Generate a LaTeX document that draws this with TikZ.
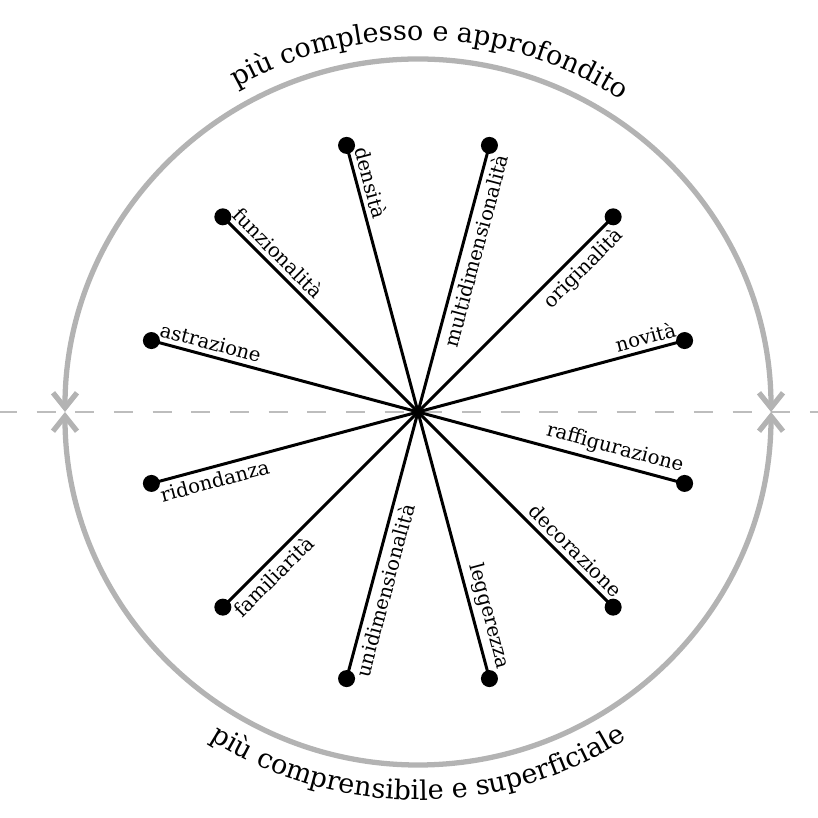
\documentclass[tikz,border=0pt]{standalone}
\usepackage{fontspec}
\setmainfont{DejaVu Serif}
\usepackage{xcolor}
\usepackage{tikz}
\usetikzlibrary{arrows.meta,decorations.text}
\definecolor{ink}{HTML}{000000}
\definecolor{ring}{HTML}{B3B3B3}
\definecolor{axis}{HTML}{BDBDBD}
\newcommand{\labfont}{\fontsize{5.6}{6.5}\selectfont}
\newcommand{\arcfont}{\fontsize{7.7}{9}\selectfont}
\tikzset{
  spoke/.style={draw=ink, line width=0.85pt, line cap=round},
  dot/.style={circle, fill=ink, inner sep=0pt, minimum size=1.7mm},
  lab/.style={font=\labfont, text=ink, inner sep=1.5pt},
  ringline/.style={
    draw=ring,
    line width=1.5pt,
    {Straight Barb[length=1.5mm, width=2.4mm]}-{Straight Barb[length=1.5mm, width=2.4mm]}
  },
  axisline/.style={draw=axis, line width=0.5pt, dash pattern=on 5.4pt off 5.6pt},
  arctext/.style={decorate, decoration={text along path, text align=center, text={#1}}}
}

\begin{document}
\begin{tikzpicture}
  \useasboundingbox (-4.18,-4.06) rectangle (4.00,4.12);
  \coordinate (centre) at (0,0);
  \coordinate (axisW) at (-4.20,0);
  \coordinate (axisE) at (4.02,0);
  \draw[axisline] (axisW) -- (axisE);

  % the ring, split on the axis
  \draw[ringline] (0:3.53) arc[start angle=0, end angle=180, radius=3.53];
  \draw[ringline] (180:3.53) arc[start angle=180, end angle=360, radius=3.53];

  \path[arctext={|\arcfont|più complesso e approfondito}]
    (121:3.72) arc[start angle=121, end angle=55, radius=3.72];
  \path[arctext={|\arcfont|più comprensibile e superficiale}]
    (233:3.88) arc[start angle=233, end angle=307, radius=3.88];

  % upper half
  \node[dot] (densita) at (105:2.76) {};
  \node[dot] (multidim) at (75:2.76) {};
  \node[dot] (funzion) at (135:2.76) {};
  \node[dot] (origin) at (45:2.76) {};
  \node[dot] (astraz) at (165:2.76) {};
  \node[dot] (novita) at (15:2.76) {};
  \draw[spoke] (centre) -- (densita.center);
  \draw[spoke] (centre) -- (multidim.center);
  \draw[spoke] (centre) -- (funzion.center);
  \draw[spoke] (centre) -- (origin.center);
  \draw[spoke] (centre) -- (astraz.center);
  \draw[spoke] (centre) -- (novita.center);
  \node[lab, rotate=-75, anchor=south west] (densita-t) at (densita.center) {densità};
  \node[lab, rotate=75, anchor=north east] (multidim-t) at (multidim.center) {multidimensionalità};
  \node[lab, rotate=-45, anchor=south west] (funzion-t) at (funzion.center) {funzionalità};
  \node[lab, rotate=45, anchor=north east] (origin-t) at (origin.center) {originalità};
  \node[lab, rotate=-15, anchor=south west] (astraz-t) at (astraz.center) {astrazione};
  \node[lab, rotate=15, anchor=south east] (novita-t) at (novita.center) {novità};

  % lower half
  \node[dot] (ridond) at (195:2.76) {};
  \node[dot] (raffig) at (345:2.76) {};
  \node[dot] (famil) at (225:2.76) {};
  \node[dot] (decor) at (315:2.76) {};
  \node[dot] (unidim) at (255:2.76) {};
  \node[dot] (legger) at (285:2.76) {};
  \draw[spoke] (centre) -- (ridond.center);
  \draw[spoke] (centre) -- (raffig.center);
  \draw[spoke] (centre) -- (famil.center);
  \draw[spoke] (centre) -- (decor.center);
  \draw[spoke] (centre) -- (unidim.center);
  \draw[spoke] (centre) -- (legger.center);
  \node[lab, rotate=15, anchor=north west] (ridond-t) at (ridond.center) {ridondanza};
  \node[lab, rotate=-15, anchor=south east] (raffig-t) at (raffig.center) {raffigurazione};
  \node[lab, rotate=45, anchor=north west] (famil-t) at (famil.center) {familiarità};
  \node[lab, rotate=-45, anchor=south east] (decor-t) at (decor.center) {decorazione};
  \node[lab, rotate=75, anchor=north west] (unidim-t) at (unidim.center) {unidimensionalità};
  \node[lab, rotate=-75, anchor=south east] (legger-t) at (legger.center) {leggerezza};
\end{tikzpicture}
\end{document}
